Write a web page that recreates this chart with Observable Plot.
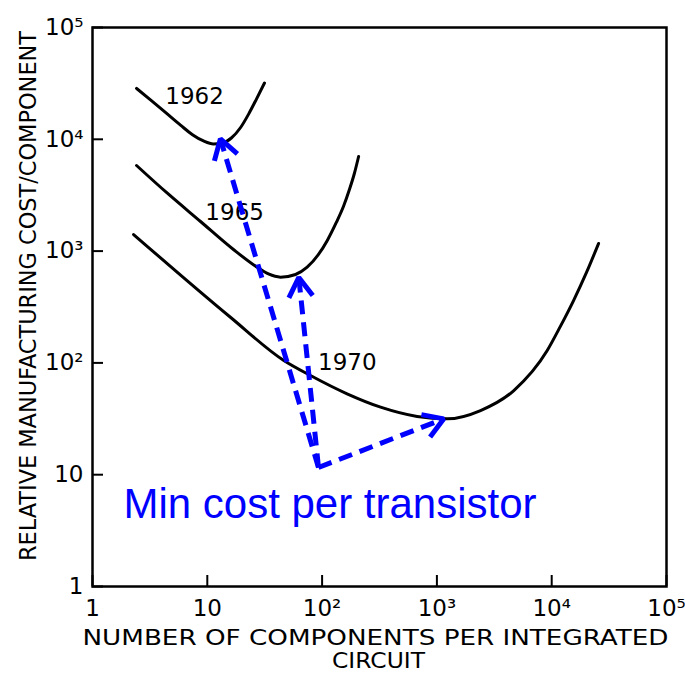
<!DOCTYPE html>
<html>
<head>
<meta charset="utf-8">
<script src="https://cdn.jsdelivr.net/npm/d3@7"></script>
<script src="https://cdn.jsdelivr.net/npm/@observablehq/plot@0.6"></script>
<style>
  body { margin: 0; background: #fff; }
  #chart svg { display: block; }
</style>
</head>
<body>
<div id="chart"></div>
<script>
// ---- data ----
const xTicks = [1, 10, 100, 1000, 10000, 100000];
const xTickLabels = ["1", "10", "10²", "10³", "10⁴", "10⁵"];
const yTicks = [1, 10, 100, 1000, 10000, 100000];
const yTickLabels = ["1", "10", "10²", "10³", "10⁴", "10⁵"];

const curve1962X = [2.42, 3.20, 4.32, 5.84, 7.43, 9.27, 11.3, 13.6, 16.2, 19.5, 22.9, 26.8, 31.5];
const curve1962Y = [28500, 22500, 17400, 13400, 11000, 9660, 9080, 9270, 10270, 12750, 16800, 22900, 31900];

const curve1965X = [2.42, 4.41, 8.73, 16.9, 27.4, 34.1, 43.4, 58.7, 74.1, 93.0, 111, 133, 154, 173, 191, 208];
const curve1965Y = [5830, 3344, 1840, 1033, 713, 624, 585, 618, 718, 933, 1245, 1803, 2531, 3556, 4944, 7020];

const curve1970X = [2.28, 15.9, 46.4, 79.2, 165, 323, 673, 1230, 2400, 4680, 9140, 11900, 15500, 20100, 25600];
const curve1970Y = [1407, 256, 105, 77.1, 52.9, 40.2, 33.2, 31.6, 37.5, 56.6, 129, 212, 361, 644, 1170];

const curveYears = ["1962", "1965", "1970"];
const labelX = [7.74, 17.3, 166];
const labelY = [24100, 2215, 101];

const arrowFromX = 93;
const arrowFromY = 11.6;
const arrowToX = [13.0, 62.7, 1148];
const arrowToY = [10100, 581, 31.6];

const noteText = "Min cost per transistor";
const noteX = 1.86;
const noteY = 4.14;

const xLabelLine1 = "NUMBER OF COMPONENTS PER INTEGRATED";
const xLabelLine2 = "CIRCUIT";
const yLabel = "RELATIVE MANUFACTURING COST/COMPONENT";

// ---- tables built from the arrays ----
const curveData = [];
[[curve1962X, curve1962Y], [curve1965X, curve1965Y], [curve1970X, curve1970Y]].forEach(([xs, ys], k) => {
  xs.forEach((x, i) => curveData.push({year: curveYears[k], x, y: ys[i]}));
});
const labelData = curveYears.map((t, i) => ({t, x: labelX[i], y: labelY[i]}));
const arrowData = arrowToX.map((x, i) => ({x1: arrowFromX, y1: arrowFromY, x2: x, y2: arrowToY[i]}));
const xTickData = xTicks.map(v => ({v}));
const yTickData = yTicks.map(v => ({v}));

const blue = "#0000ff";
const W = 685, H = 684, ML = 92, MR = 19, MT = 27, MB = 98, TICK = 11;

const chart = Plot.plot({
  width: W,
  height: H,
  marginLeft: ML,
  marginRight: MR,
  marginTop: MT,
  marginBottom: MB,
  style: {fontFamily: "DejaVu Sans", fontSize: "22px", color: "black", background: "white", overflow: "visible"},
  x: {type: "log", domain: [1, 100000]},
  y: {type: "log", domain: [1, 100000]},
  marks: [
    Plot.line(curveData, {x: "x", y: "y", z: "year", curve: "monotone-x", stroke: "black", strokeWidth: 3}),
    Plot.text(labelData, {x: "x", y: "y", text: "t", fontSize: 23, fill: "black"}),
    Plot.link(arrowData, {x1: "x1", y1: "y1", x2: "x2", y2: "y2", stroke: blue, strokeWidth: 5, strokeDasharray: "14,8", markerEnd: "arrow"}),
    Plot.text([noteText], {x: noteX, y: noteY, textAnchor: "start", lineAnchor: "bottom", fontSize: 42, fontFamily: "Liberation Sans, Arial, sans-serif", fill: blue}),
    Plot.frame({stroke: "black", strokeWidth: 2.5}),
    // inward tick marks (short rules from the frame edge)
    Plot.ruleX(xTickData, {x: "v", insetTop: (H - MT - MB) - TICK, stroke: "black", strokeWidth: 2}),
    Plot.ruleY(yTickData, {y: "v", insetRight: (W - ML - MR) - TICK, stroke: "black", strokeWidth: 2}),
    // tick labels
    Plot.axisX({ticks: xTicks, tickFormat: d => xTickLabels[xTicks.indexOf(d)], tickSize: 0, tickPadding: 13, label: null, fontSize: 23}),
    Plot.axisY({ticks: yTicks, tickFormat: d => yTickLabels[yTicks.indexOf(d)], tickSize: 0, tickPadding: 9, label: null, fontSize: 23}),
    // axis titles
    Plot.text([yLabel], {frameAnchor: "left", rotate: -90, textAnchor: "middle", dx: -64, dy: -11, fontSize: 23, fill: "black"}),
    Plot.text([xLabelLine1], {frameAnchor: "bottom", textAnchor: "middle", dy: 58, dx: -4, fontSize: 22, fill: "black"}),
    Plot.text([xLabelLine2], {frameAnchor: "bottom", textAnchor: "middle", dy: 81, dx: -1, fontSize: 22, fill: "black"})
  ]
});

document.getElementById("chart").appendChild(chart);

// ---- styling touches ----
const svg = d3.select(chart);
const fit = {};
fit[yLabel] = 530;
fit[xLabelLine1] = 586;
fit[xLabelLine2] = 93;
svg.selectAll("text").each(function () {
  const t = this.textContent;
  if (fit[t]) {
    d3.select(this).attr("textLength", fit[t]).attr("lengthAdjust", "spacingAndGlyphs");
  }
});
svg.selectAll("marker")
  .attr("overflow", "visible")
  .attr("stroke-dasharray", "none")
  .attr("stroke-linecap", "butt")
  .attr("stroke-linejoin", "miter")
  .attr("stroke-width", 1.5)
  .selectAll("path")
  .attr("d", "M-5.8,-3.6L0,0L-5.8,3.6");
</script>
</body>
</html>
